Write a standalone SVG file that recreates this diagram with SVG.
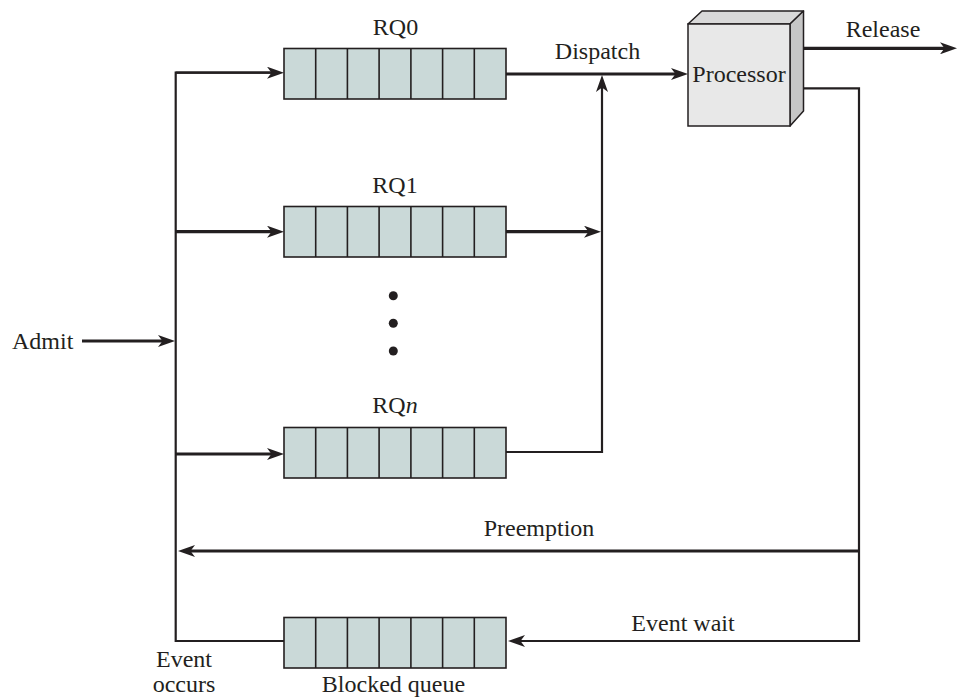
<svg xmlns="http://www.w3.org/2000/svg" xmlns:xlink="http://www.w3.org/1999/xlink" width="959" height="697" viewBox="0 0 959 697">
<style>
  .lbl { font-family: "Liberation Serif", "Times New Roman", serif; font-size: 24px; fill: #231f20; }
  .mid { text-anchor: middle; }
  .thick { fill: none; stroke: #231f20; stroke-width: 3.2; }
  .thin { fill: none; stroke: #231f20; stroke-width: 2.2; }
  .qbox { fill: #cad9d8; stroke: #231f20; stroke-width: 1.6; }
  .qdiv { stroke: #231f20; stroke-width: 1.6; }
</style>
<defs>
  <marker id="arr" markerUnits="userSpaceOnUse" viewBox="0 0 17 12" markerWidth="17" markerHeight="12" refX="7" refY="6" orient="auto">
    <path d="M0,0 L17,6 L0,12 L4.5,6 Z" fill="#231f20"/>
  </marker>
  <g id="queue">
    <rect class="qbox" x="0" y="0" width="222" height="50.5"/>
    <line class="qdiv" x1="31.7" y1="0" x2="31.7" y2="50.5"/>
    <line class="qdiv" x1="63.4" y1="0" x2="63.4" y2="50.5"/>
    <line class="qdiv" x1="95.1" y1="0" x2="95.1" y2="50.5"/>
    <line class="qdiv" x1="126.9" y1="0" x2="126.9" y2="50.5"/>
    <line class="qdiv" x1="158.6" y1="0" x2="158.6" y2="50.5"/>
    <line class="qdiv" x1="190.3" y1="0" x2="190.3" y2="50.5"/>
  </g>
</defs>

<g id="connectors">
  <!-- left bus -->
  <path class="thin" d="M284,641 H175.7 V72.7 H274"/>
  <!-- admit -->
  <line class="thick" x1="82" y1="341" x2="165" y2="341" marker-end="url(#arr)"/>
  <!-- into RQ0, RQ1, RQn -->
  <line class="thin" x1="175.7" y1="72.7" x2="274" y2="72.7" marker-end="url(#arr)"/>
  <line class="thick" x1="175.7" y1="231.7" x2="274" y2="231.7" marker-end="url(#arr)"/>
  <line class="thick" x1="175.7" y1="454" x2="274" y2="454" marker-end="url(#arr)"/>
  <!-- RQ1 out -->
  <line class="thick" x1="506" y1="231.7" x2="591" y2="231.7" marker-end="url(#arr)"/>
  <!-- RQn out and up -->
  <path class="thin" d="M506,452 H602 V85" marker-end="url(#arr)"/>
  <!-- dispatch -->
  <line class="thick" x1="506" y1="74" x2="678" y2="74" marker-end="url(#arr)"/>
  <!-- release -->
  <line class="thick" x1="796" y1="48.3" x2="947" y2="48.3" marker-end="url(#arr)"/>
  <!-- processor to event wait -->
  <path class="thin" d="M796,88.3 H859 V641 H518" marker-end="url(#arr)"/>
  <!-- preemption -->
  <line class="thick" x1="859" y1="551" x2="188" y2="551" marker-end="url(#arr)"/>
</g>

<g id="rq0">
  <use xlink:href="#queue" x="284" y="48.5"/>
  <text class="lbl mid" x="395.5" y="35">RQ0</text>
</g>
<g id="rq1">
  <use xlink:href="#queue" x="284" y="206.5"/>
  <text class="lbl mid" x="395" y="193">RQ1</text>
</g>
<g id="dots">
  <circle cx="393.3" cy="295.7" r="4.5" fill="#231f20"/>
  <circle cx="393.3" cy="323.3" r="4.5" fill="#231f20"/>
  <circle cx="393.3" cy="351" r="4.5" fill="#231f20"/>
</g>
<g id="rqn">
  <use xlink:href="#queue" x="284" y="427.5"/>
  <text class="lbl mid" x="395" y="413">RQ<tspan font-style="italic">n</tspan></text>
</g>
<g id="blocked">
  <use xlink:href="#queue" x="284" y="617.5"/>
  <text class="lbl mid" x="393.5" y="692">Blocked queue</text>
</g>
<g id="processor">
  <polygon points="688,24 702,11 803.5,11 790,24" fill="#d9d9d9" stroke="#231f20" stroke-width="1.5" stroke-linejoin="round"/>
  <polygon points="790,24 803.5,11 803.5,111 790,126" fill="#c6c6c6" stroke="#231f20" stroke-width="1.5" stroke-linejoin="round"/>
  <rect x="688" y="24" width="102" height="102" fill="#e8e8e8" stroke="#231f20" stroke-width="1.5"/>
  <text class="lbl mid" x="739" y="82">Processor</text>
</g>
<g id="labels">
  <text class="lbl" x="12" y="349">Admit</text>
  <text class="lbl mid" x="597.5" y="59">Dispatch</text>
  <text class="lbl mid" x="883" y="37">Release</text>
  <text class="lbl mid" x="539" y="536">Preemption</text>
  <text class="lbl mid" x="683" y="631">Event wait</text>
  <text class="lbl mid" x="184" y="667">Event</text>
  <text class="lbl mid" x="184" y="692">occurs</text>
</g>
</svg>
